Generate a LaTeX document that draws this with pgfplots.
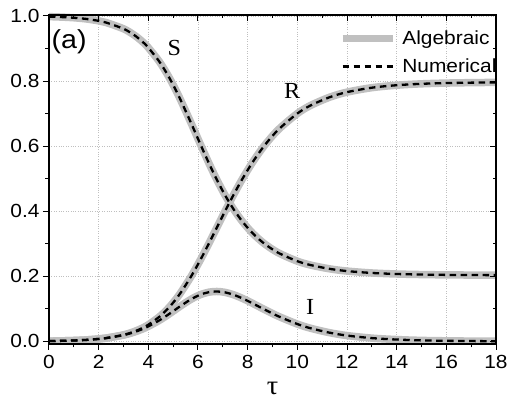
\documentclass[border=0pt]{standalone}
\usepackage{fontspec}
\setmainfont{Liberation Sans}[FakeStretch=1.1]
\newfontfamily\serif{Liberation Serif}[FakeStretch=1.05]
\usepackage{pgfplots}
\pgfplotsset{compat=1.18}
\usepackage{pgfplotstable}

\definecolor{band}{RGB}{192,192,192}

% t  S  I  R
\pgfplotstableread{
t      S      I      R
0.000  0.9980 0.0010 0.0010
0.500  0.9966 0.0017 0.0017
1.000  0.9945 0.0028 0.0028
1.500  0.9909 0.0045 0.0046
2.000  0.9850 0.0075 0.0076
2.282  0.9802 0.0098 0.0100
2.996  0.9608 0.0192 0.0200
3.422  0.9418 0.0282 0.0300
3.731  0.9231 0.0369 0.0400
3.975  0.9048 0.0452 0.0500
4.435  0.8607 0.0643 0.0750
4.781  0.8187 0.0813 0.1000
5.063  0.7788 0.0962 0.1250
5.306  0.7408 0.1092 0.1500
5.725  0.6703 0.1297 0.2000
6.092  0.6065 0.1435 0.2500
6.432  0.5488 0.1512 0.3000
6.760  0.4966 0.1534 0.3500
7.089  0.4493 0.1507 0.4000
7.429  0.4066 0.1434 0.4500
7.793  0.3679 0.1321 0.5000
8.194  0.3329 0.1171 0.5500
8.657  0.3012 0.0988 0.6000
9.226  0.2725 0.0775 0.6500
9.997  0.2466 0.0534 0.7000
10.533 0.2346 0.0404 0.7250
11.288 0.2231 0.0269 0.7500
12.000 0.2161 0.0179 0.7660
13.000 0.2103 0.0101 0.7796
14.000 0.2071 0.0057 0.7872
15.000 0.2054 0.0031 0.7915
16.000 0.2044 0.0018 0.7938
17.000 0.2039 0.0010 0.7951
18.000 0.2036 0.0005 0.7959
}\sir

\begin{document}
\begin{tikzpicture}
\useasboundingbox (-49pt,-57pt) rectangle (460pt,344pt);
\begin{axis}[
  at={(0,0)}, anchor=south west,
  scale only axis, width=447pt, height=329pt,
  xmin=0, xmax=18, ymin=-0.008, ymax=1.003,
  xtick={0,2,...,18}, minor x tick num=1,
  ytick={0,0.2,0.4,0.6,0.8,1}, minor y tick num=1,
  axis line style={line width=1.2pt},
  tick style={black, line width=1pt},
  major tick length=6pt, minor tick length=3.5pt,
  tick align=outside, tick pos=left,
  grid=major, major grid style={dotted, gray!50, line width=0.8pt},
  ticklabel style={font=\fontsize{19}{22}\selectfont},
  xticklabel style={yshift=-2pt},
  /pgf/number format/assume math mode=true,
  yticklabel style={/pgf/number format/.cd, fixed, fixed zerofill, precision=1},
  xlabel={\serif τ},
  xlabel style={font=\fontsize{27}{31}\selectfont, at={(axis description cs:0.5,0)},
    anchor=north, inner sep=0pt, yshift=-38pt},
  legend style={at={(rel axis cs:0.648,0.958)}, anchor=north west, inner sep=0pt,
    draw=none, fill=none, font=\fontsize{19}{23}\selectfont, row sep=9pt, column sep=6pt,
    nodes={inner sep=0pt, text height=15pt, text depth=4pt}},
  legend cell align=left,
  legend image code/.code={\draw[#1] (0pt,0pt) -- (50pt,0pt);},
  clip=false,
]
\addplot[band, line width=7.5pt, smooth] table[x=t, y=S] {\sir};
\addlegendentry{Algebraic}
\addplot[band, line width=7.5pt, smooth, forget plot] table[x=t, y=R] {\sir};
\addplot[band, line width=7.5pt, smooth, forget plot] table[x=t, y=I] {\sir};
\addplot[black, line width=2.3pt, dash pattern=on 6.5pt off 4.5pt, smooth] table[x=t, y=S] {\sir};
\addlegendentry{Numerical}
\addplot[black, line width=2.3pt, dash pattern=on 6.5pt off 4.5pt, smooth, forget plot] table[x=t, y=R] {\sir};
\addplot[black, line width=2.3pt, dash pattern=on 6.5pt off 4.5pt, smooth, forget plot] table[x=t, y=I] {\sir};

\node[font=\fontsize{26}{30}\selectfont] at (axis cs:0.81,0.92) {(a)};
\node[font=\serif\fontsize{23}{26}\selectfont] at (axis cs:5.05,0.903) {S};
\node[font=\serif\fontsize{23}{26}\selectfont] at (axis cs:9.79,0.770) {R};
\node[font=\serif\fontsize{23}{26}\selectfont] at (axis cs:10.52,0.107) {I};
\end{axis}
\begin{axis}[
  at={(0,0)}, anchor=south west,
  scale only axis, width=447pt, height=329pt,
  xmin=0, xmax=18, ymin=-0.008, ymax=1.003,
  xtick={0,2,...,18}, minor x tick num=1,
  ytick={0,0.2,0.4,0.6,0.8,1}, minor y tick num=1,
  axis line style={line width=1.2pt},
  tick style={black, line width=1pt},
  major tick length=6pt, minor tick length=3.5pt,
  tick align=inside, tick pos=right,
  xticklabels={}, yticklabels={},
]
\end{axis}
\end{tikzpicture}
\end{document}
